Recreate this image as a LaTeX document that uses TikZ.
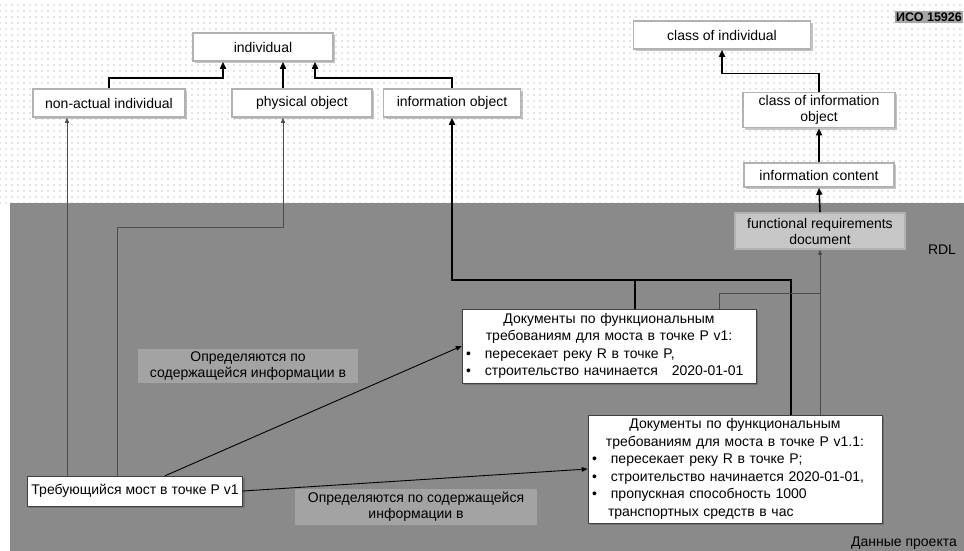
\documentclass[tikz,border=0pt]{standalone}
\usepackage{fontspec}
\setmainfont{Liberation Sans}
\usepackage{tikz}
\usetikzlibrary{arrows.meta,calc,shadows,patterns.meta}
\definecolor{rdlgray}{gray}{0.54}
\tikzset{
  rdlbox/.style={draw=gray!60, line width=1.6pt, fill=white, align=center,
    font=\fontsize{14}{16}\selectfont, inner sep=3pt, minimum height=28pt,
    drop shadow={shadow xshift=2pt, shadow yshift=-2pt, fill=black!45}},
  docbox/.style={draw=black!75, fill=white, font=\fontsize{14}{17.5}\selectfont,
    inner sep=4pt, drop shadow={shadow xshift=2pt, shadow yshift=-2pt, fill=black!65}},
  hierarrow/.style={-{Triangle[length=7pt,width=6pt]}, line width=1.6pt},
  hierline/.style={line width=1.6pt},
  reflink/.style={draw=black!70, line width=0.7pt},
  refarrow/.style={reflink, -{Triangle[length=5pt,width=4pt]}},
  linkarrow/.style={-{Triangle[length=6pt,width=4.5pt]}, line width=0.9pt},
  notelabel/.style={fill=black!36, align=center, font=\fontsize{14}{16}\selectfont, inner sep=3pt},
}

\begin{document}
\begin{tikzpicture}[x=1pt, y={(0pt,-1pt)}]
  \useasboundingbox (0,0) rectangle (964,551);
  % фон: RDL сверху, данные проекта снизу
  \fill[white] (0,0) rectangle (964,551);
  \fill[pattern={Dots[distance=6pt, radius=0.55pt]}, pattern color=black!45] (0,0) rectangle (964,203);
  \fill[rdlgray] (10,203) rectangle (964,551);
  % RDL
  \node[rdlbox, minimum width=140pt] (ind) at (263,47) {individual};
  \node[rdlbox, minimum width=152pt] (nonact) at (109,103) {non-actual individual};
  \node[rdlbox, minimum width=140pt] (phys) at (302,103) {physical object};
  \node[rdlbox, minimum width=137pt] (infobj) at (452,103) {information object};
  \node[rdlbox, minimum width=177pt] (clsind) at (722,35) {class of individual};
  \node[rdlbox, minimum width=152pt, minimum height=34pt] (clsinfo) at (819,110) {class of information\\object};
  \node[rdlbox, minimum width=150pt, minimum height=24pt] (infocont) at (819,175) {information content};
  \node[rdlbox, fill=black!22, minimum width=170pt, minimum height=36pt] (frdoc) at (820,231) {functional requirements\\document};
  \node[font=\bfseries\fontsize{12.5}{14}\selectfont, fill=black!35, inner sep=1.5pt] (isolbl) at (929,17) {ИСО 15926};
  \node[font=\fontsize{14}{16}\selectfont] (rdllbl) at (942,250) {RDL};
  \draw[hierarrow] (nonact.north) -- ++(0,-10) -| ([xshift=-40pt]ind.south);
  \draw[hierarrow] ([xshift=20pt]ind.south |- phys.north) -- ([xshift=20pt]ind.south);
  \draw[hierarrow] (infobj.north) -- ++(0,-10) -| ([xshift=52pt]ind.south);
  \draw[hierarrow] (clsinfo.north) -- ++(0,-18) -| (clsind.south);
  \draw[hierarrow] (infocont.north) -- (clsinfo.south);
  \draw[hierarrow] (frdoc.north) -- (infocont.south);
  % данные проекта
  \node[docbox, text width=286pt] (docv1) at (609,346) {\centering Документы по функциональным\\требованиям для моста в точке P v1:\par
    \raggedright\textbullet\quad пересекает реку R в точке P,\\
    \textbullet\quad строительство начинается\quad 2020-01-01};
  \node[docbox, text width=286pt] (docv11) at (735,469) {\centering Документы по функциональным\\требованиям для моста в точке P v1.1:\par
    \raggedright\textbullet\quad пересекает реку R в точке P;\\
    \textbullet\quad строительство начинается 2020-01-01,\\
    \textbullet\quad пропускная способность 1000\\
    \hspace*{16pt}транспортных средств в час};
  \node[docbox, minimum width=204pt, minimum height=30pt] (bridge) at (135,491) {Требующийся мост в точке P v1};
  \node[notelabel, minimum width=220pt] (lblup) at (248,366) {Определяются по\\содержащейся информации в};
  \node[notelabel, minimum width=242pt] (lbldown) at (416,507) {Определяются по содержащейся\\информации в};
  \node[font=\fontsize{14}{16}\selectfont] (datalbl) at (904,543) {Данные проекта};
  % связи
  \coordinate (joint) at (635,280);
  \coordinate (frjoint) at ($(frdoc.south)+(0,44)$);
  \draw[hierarrow] ([xshift=26pt]docv1.north) -- (joint) -| (infobj.south);
  \draw[hierline] ([xshift=56pt]docv11.north) |- (joint);
  \draw[reflink] ([xshift=-37pt]docv1.north east) |- (frjoint);
  \draw[refarrow] (docv11.north -| frdoc.south) -- (frdoc.south);
  \draw[refarrow] ([xshift=-68pt]bridge.north) -- ([xshift=-68pt]bridge.north |- nonact.south);
  \draw[refarrow] ([xshift=-18pt]bridge.north) -- ++(0,-248) -| ([xshift=-19pt]phys.south);
  \draw[linkarrow] ([xshift=30pt]bridge.north) -- (docv1.west);
  \draw[linkarrow] (bridge.east) -- (docv11.west);
\end{tikzpicture}
\end{document}
